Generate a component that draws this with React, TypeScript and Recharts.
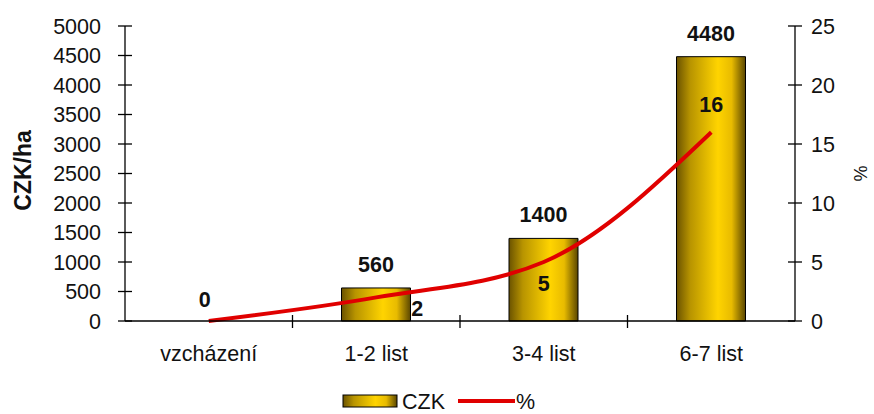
import React from 'react';
import { ComposedChart, Bar, Line, XAxis, YAxis, Legend, LabelList } from 'recharts';

const categories = ['vzcházení', '1-2 list', '3-4 list', '6-7 list'];
const czkValues = [0, 560, 1400, 4480];
const pctValues = [0, 2, 5, 16];
const leftTicks = [0, 500, 1000, 1500, 2000, 2500, 3000, 3500, 4000, 4500, 5000];
const rightTicks = [0, 5, 10, 15, 20, 25];

const data = categories.map((c, i) => ({ cat: c, czk: czkValues[i], pct: pctValues[i] }));

const FONT = '"Liberation Sans", Arial, sans-serif';
const FS = 21.5;
const BAND = 167.5;

const LeftTick = (props: any) => {
  const { x, y, payload } = props;
  return (
    <g>
      <line x1={x - 7} x2={x + 7} y1={y} y2={y} stroke="#000" strokeWidth={1.3} />
      <text x={x - 24} y={y} dy={7.5} textAnchor="end" fontSize={FS} fontFamily={FONT} fill="#111">
        {payload.value}
      </text>
    </g>
  );
};

const RightTick = (props: any) => {
  const { x, y, payload } = props;
  return (
    <g>
      <line x1={x - 7} x2={x + 7} y1={y} y2={y} stroke="#000" strokeWidth={1.3} />
      <text x={x + 16} y={y} dy={7.5} textAnchor="start" fontSize={FS} fontFamily={FONT} fill="#111">
        {payload.value}
      </text>
    </g>
  );
};

const BottomTick = (props: any) => {
  const { x, y, payload, index } = props;
  return (
    <g>
      {index > 0 && (
        <line x1={x - BAND / 2} x2={x - BAND / 2} y1={y - 6} y2={y + 7} stroke="#000" strokeWidth={1.3} />
      )}
      <text x={x} y={y + 40} textAnchor="middle" fontSize={FS} fontFamily={FONT} fill="#111">
        {payload.value}
      </text>
    </g>
  );
};

const LeftTitle = (props: any) => {
  const { viewBox } = props;
  const cx = viewBox.x + 23;
  const cy = viewBox.y + viewBox.height / 2 - 3;
  return (
    <text x={cx} y={cy} dy={8} transform={`rotate(-90 ${cx} ${cy})`} textAnchor="middle" fontSize={23} fontWeight="bold" fontFamily={FONT} fill="#111">
      CZK/ha
    </text>
  );
};

const RightTitle = (props: any) => {
  const { viewBox } = props;
  const cx = viewBox.x + 65;
  const cy = viewBox.y + viewBox.height / 2;
  return (
    <text x={cx} y={cy} dy={6} transform={`rotate(90 ${cx} ${cy})`} textAnchor="middle" fontSize={18} fontFamily={FONT} fill="#111">
      %
    </text>
  );
};

const pctOffsets = [[-4, -14], [41, 19], [0, 29], [0, -20]];

const PctLabel = (props: any) => {
  const { x, y, value, index } = props;
  const off = pctOffsets[index];
  if (!off) return null;
  return (
    <text x={x + off[0]} y={y + off[1]} textAnchor="middle" fontSize={FS} fontWeight="bold" fontFamily={FONT} fill="#111">
      {value}
    </text>
  );
};

const LegendContent = () => (
  <svg width={874} height={36} style={{ display: 'block' }}>
    <defs>
      <linearGradient id="goldGradLegend" x1="0" y1="0" x2="1" y2="0">
        <stop offset="0%" stopColor="#6b5300" />
        <stop offset="20%" stopColor="#b89400" />
        <stop offset="60%" stopColor="#ffd400" />
        <stop offset="80%" stopColor="#e8bb00" />
        <stop offset="100%" stopColor="#5a4600" />
      </linearGradient>
    </defs>
    <rect x={343} y={17} width={54} height={12} fill="url(#goldGradLegend)" stroke="#000" strokeWidth={1} />
    <text x={402} y={31} fontSize={FS} fontFamily={FONT} fill="#111">CZK</text>
    <line x1={458} x2={515} y1={23} y2={23} stroke="#e00000" strokeWidth={4} />
    <text x={516} y={31} fontSize={FS} fontFamily={FONT} fill="#111">%</text>
  </svg>
);

export default function App() {
  return (
    <div style={{ position: 'absolute', left: 0, top: 0, width: 874, height: 414, background: '#fff' }}>
      <ComposedChart width={874} height={414} data={data} margin={{ top: 26, right: 0, left: 0, bottom: 0 }} barCategoryGap={0}>
        <defs>
          <linearGradient id="goldGrad" x1="0" y1="0" x2="1" y2="0">
            <stop offset="0%" stopColor="#6b5300" />
            <stop offset="20%" stopColor="#b89400" />
            <stop offset="60%" stopColor="#ffd400" />
            <stop offset="80%" stopColor="#e8bb00" />
            <stop offset="100%" stopColor="#5a4600" />
          </linearGradient>
        </defs>
        <XAxis
          dataKey="cat"
          height={57}
          axisLine={{ stroke: '#000', strokeWidth: 1.3 }}
          tickLine={false}
          tickSize={0}
          tickMargin={0}
          tick={<BottomTick />}
          interval={0}
        />
        <YAxis
          yAxisId="left"
          width={125}
          domain={[0, 5000]}
          ticks={leftTicks}
          interval={0}
          axisLine={{ stroke: '#000', strokeWidth: 1.3 }}
          tickLine={false}
          tickSize={0}
          tickMargin={0}
          tick={<LeftTick />}
          label={<LeftTitle />}
        />
        <YAxis
          yAxisId="right"
          orientation="right"
          width={79}
          domain={[0, 25]}
          ticks={rightTicks}
          interval={0}
          axisLine={{ stroke: '#000', strokeWidth: 1.3 }}
          tickLine={false}
          tickSize={0}
          tickMargin={0}
          tick={<RightTick />}
          label={<RightTitle />}
        />
        <Legend verticalAlign="bottom" height={36} content={<LegendContent />} wrapperStyle={{ left: 0, width: 874 }} />
        <Bar yAxisId="left" dataKey="czk" name="CZK" barSize={69} fill="url(#goldGrad)" stroke="#000" strokeWidth={1} isAnimationActive={false}>
          <LabelList dataKey="czk" position="top" offset={16} fontSize={FS} fontWeight="bold" fontFamily={FONT} fill="#111" />
        </Bar>
        <Line yAxisId="right" dataKey="pct" name="%" type="monotone" stroke="#e00000" strokeWidth={4} dot={false} isAnimationActive={false}>
          <LabelList dataKey="pct" content={<PctLabel />} />
        </Line>
      </ComposedChart>
    </div>
  );
}
